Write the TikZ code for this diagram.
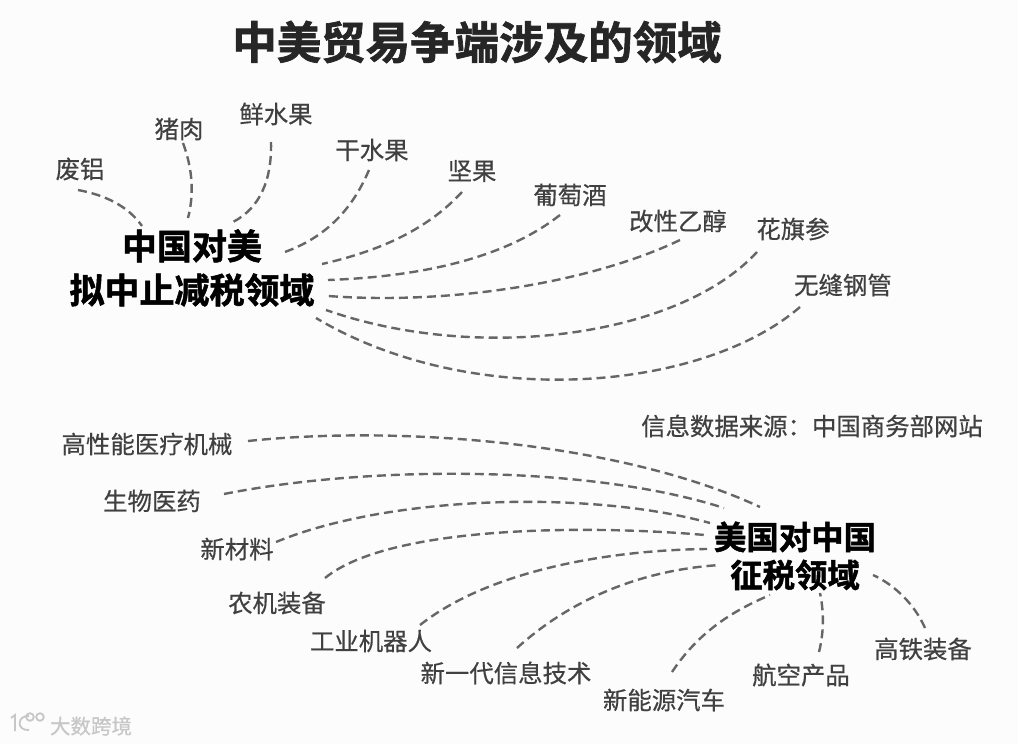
\documentclass[tikz,border=0pt]{standalone}
\usepackage{fontspec}
\setmainfont{Noto Sans CJK SC}
\newfontfamily\lblface[FakeBold=0.5]{Noto Sans CJK SC}
\newfontfamily\hubface[FakeBold=1.5]{Noto Sans CJK SC Bold}
\begin{document}
\begin{tikzpicture}[x=1pt,y=-1pt,
  lbl/.style={inner sep=0pt,text=black!75,font=\lblface\fontsize{24.4}{26}\selectfont},
  hubA/.style={inner sep=0pt,align=center,text=black,font=\hubface\fontsize{35}{44}\selectfont},
  hubB/.style={inner sep=0pt,align=center,text=black,font=\hubface\fontsize{32.4}{38}\selectfont},
  conn/.style={draw=black!60,line width=2.4pt,dash pattern=on 9pt off 5pt}]
\useasboundingbox (0,0) rectangle (1018,744);
\fill[white!99!black] (0,0) rectangle (1018,744);
\node[inner sep=0pt,text=black!85,font=\hubface\fontsize{44.5}{48}\selectfont] (title) at (477,42) {中美贸易争端涉及的领域};
% top hub and leaves
\node[hubA] (hubtop) at (192,268) {中国对美\\拟中止减税领域};
\node[lbl] (a1) at (80,169) {废铝};
\node[lbl] (a2) at (179,129) {猪肉};
\node[lbl] (a3) at (276,114) {鲜水果};
\node[lbl] (a4) at (372,150) {干水果};
\node[lbl] (a5) at (472,171) {坚果};
\node[lbl] (a6) at (570,195) {葡萄酒};
\node[lbl] (a7) at (678,221) {改性乙醇};
\node[lbl] (a8) at (793,229) {花旗参};
\node[lbl] (a9) at (843,285) {无缝钢管};
\node[lbl] (src) at (812,426) {信息数据来源：中国商务部网站};
% bottom hub and leaves
\node[hubB] (hubbot) at (795,556) {美国对中国\\征税领域};
\node[lbl] (b1) at (147,444) {高性能医疗机械};
\node[lbl] (b2) at (152,501) {生物医药};
\node[lbl] (b3) at (237,549) {新材料};
\node[lbl] (b4) at (277,603) {农机装备};
\node[lbl] (b5) at (371,641) {工业机器人};
\node[lbl] (b6) at (506,673) {新一代信息技术};
\node[lbl] (b7) at (664,700) {新能源汽车};
\node[lbl] (b8) at (801,675) {航空产品};
\node[lbl] (b9) at (923,649) {高铁装备};
% connector ends
\foreach \n/\x/\y in {
 pa1/78/190, qa1/142/226, pa2/183/143, qa2/188/218, pa3/271/142, qa3/233/222,
 pa4/369/170, qa4/282/253, pa5/462/192, qa5/322/264, pa6/560/215, qa6/328/280,
 pa7/680/240, qa7/328/296, pa8/757/252, qa8/326/310, pa9/800/307, qa9/316/318,
 pb1/248/441, qb1/760/507, pb2/224/494, qb2/724/508, pb3/276/542, qb3/710/523,
 pb4/325/578, qb4/705/535, pb5/420/625, qb5/707/549, pb6/517/648, qb6/720/565,
 pb7/672/672, qb7/770/595, pb8/819/652, qb8/820/593, pb9/925/628, qb9/873/575}
 {\coordinate (\n) at (\x,\y);}
\draw[conn] (pa1) .. controls (105,195) and (128,206) .. (qa1);
\draw[conn] (pa2) .. controls (193,170) and (194,195) .. (qa2);
\draw[conn] (pa3) .. controls (272,180) and (260,208) .. (qa3);
\draw[conn] (pa4) .. controls (350,215) and (320,240) .. (qa4);
\draw[conn] (pa5) .. controls (425,232) and (375,252) .. (qa5);
\draw[conn] (pa6) .. controls (500,262) and (410,277) .. (qa6);
\draw[conn] (pa7) .. controls (590,283) and (450,305) .. (qa7);
\draw[conn] (pa8) .. controls (680,336) and (480,364) .. (qa8);
\draw[conn] (pa9) .. controls (700,393) and (470,410) .. (qa9);
\draw[conn] (pb1) .. controls (400,425) and (620,442) .. (qb1);
\draw[conn] (pb2) .. controls (370,465) and (590,465) .. (qb2);
\draw[conn] (pb3) .. controls (390,495) and (590,490) .. (qb3);
\draw[conn] (pb4) .. controls (390,525) and (590,525) .. (qb4);
\draw[conn] (pb5) .. controls (490,570) and (610,550) .. (qb5);
\draw[conn] (pb6) .. controls (570,600) and (640,570) .. (qb6);
\draw[conn] (pb7) .. controls (700,630) and (735,610) .. (qb7);
\draw[conn] (pb8) .. controls (824,632) and (824,612) .. (qb8);
\draw[conn] (pb9) .. controls (915,605) and (895,585) .. (qb9);
% watermark
\node[inner sep=0pt,text=black!22,font=\lblface\fontsize{20.5}{22}\selectfont] (wm) at (91,726) {大数跨境};
\draw[black!22,line width=1.8pt] (11,718) -- (15,715) -- (15,731);
\draw[black!22,line width=1.8pt] (29,716) .. controls (17,715) and (16,731) .. (29,730);
\draw[black!22,line width=1.8pt] (30,717) circle (3.8);
\draw[black!22,line width=1.8pt] (40,717) circle (3.8);
\end{tikzpicture}
\end{document}
